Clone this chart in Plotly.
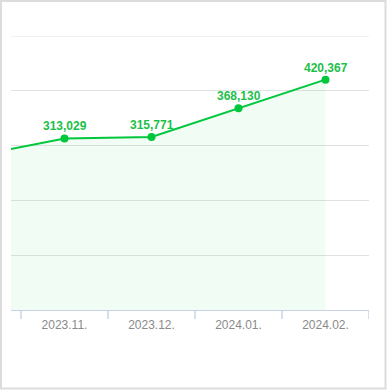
import plotly.graph_objects as go

categories = ["2023.10.", "2023.11.", "2023.12.", "2024.01.", "2024.02."]
values = [281500, 313029, 315771, 368130, 420367]
labels = ["", "313,029", "315,771", "368,130", "420,367"]

W, H = 387, 390
L, R, T, B = 11, 18, 36, 80
pw, ph = W - L - R, H - T - B

def px(X):
    return (X - L) / pw

def py(Y):
    return (H - B - Y) / ph

fig = go.Figure()
fig.add_trace(go.Scatter(
    x=list(range(len(categories))), y=values,
    mode="lines+markers",
    line=dict(color="#00c73c", width=2),
    marker=dict(color="#00c73c", size=8),
    fill="tozeroy", fillcolor="rgba(0,199,60,0.06)",
    cliponaxis=True, hoverinfo="skip",
))

annotations = []
for i, (v, t) in enumerate(zip(values, labels)):
    if t:
        annotations.append(dict(x=i, y=v, xref="x", yref="y", text=t, showarrow=False,
                                yanchor="middle", yshift=12,
                                font=dict(family="Liberation Sans, Arial", size=12,
                                          color="#1cbf48", weight="bold")))

fig.update_layout(
    width=W, height=H,
    margin=dict(l=L, r=R, t=T, b=B, pad=0),
    paper_bgcolor="white", plot_bgcolor="white",
    showlegend=False,
    annotations=annotations,
    xaxis=dict(
        range=[4.5 - pw / 87.0, 4.5],
        tickmode="array", tickvals=list(range(len(categories))), ticktext=categories,
        showgrid=False, zeroline=False,
        showline=True, linecolor="#c9d2e6", linewidth=1,
        ticks="", ticklabelstandoff=4,
        tickfont=dict(family="Liberation Sans, Arial", size=12, color="#8a8a8a"),
        fixedrange=True,
    ),
    yaxis=dict(
        range=[0, 500000], dtick=100000, tick0=0,
        showticklabels=False, showgrid=True, gridcolor="#e2e2e2", gridwidth=1,
        zeroline=False, showline=False, fixedrange=True,
    ),
)

shapes = []
# top gridline (range edge)
shapes.append(dict(type="line", xref="paper", yref="y", x0=0, x1=1, y0=500000, y1=500000,
                   line=dict(color="#e2e2e2", width=1), layer="below"))
for b in [0.5, 1.5, 2.5, 3.5, 4.5]:
    shapes.append(dict(type="line", xref="x", yref="paper", x0=b, x1=b, y0=0, y1=py(319),
                       line=dict(color="#c9d2e6", width=1.5)))
shapes.append(dict(type="rect", xref="paper", yref="paper",
                   x0=px(1), x1=px(385.5), y0=py(1), y1=py(388.5),
                   line=dict(color="#dcdcdc", width=2), fillcolor="rgba(0,0,0,0)", layer="below"))
fig.update_layout(shapes=shapes)

fig.write_html("out.html", config={"displayModeBar": False},
               post_script="document.body.style.margin='0';document.body.style.padding='0';")
